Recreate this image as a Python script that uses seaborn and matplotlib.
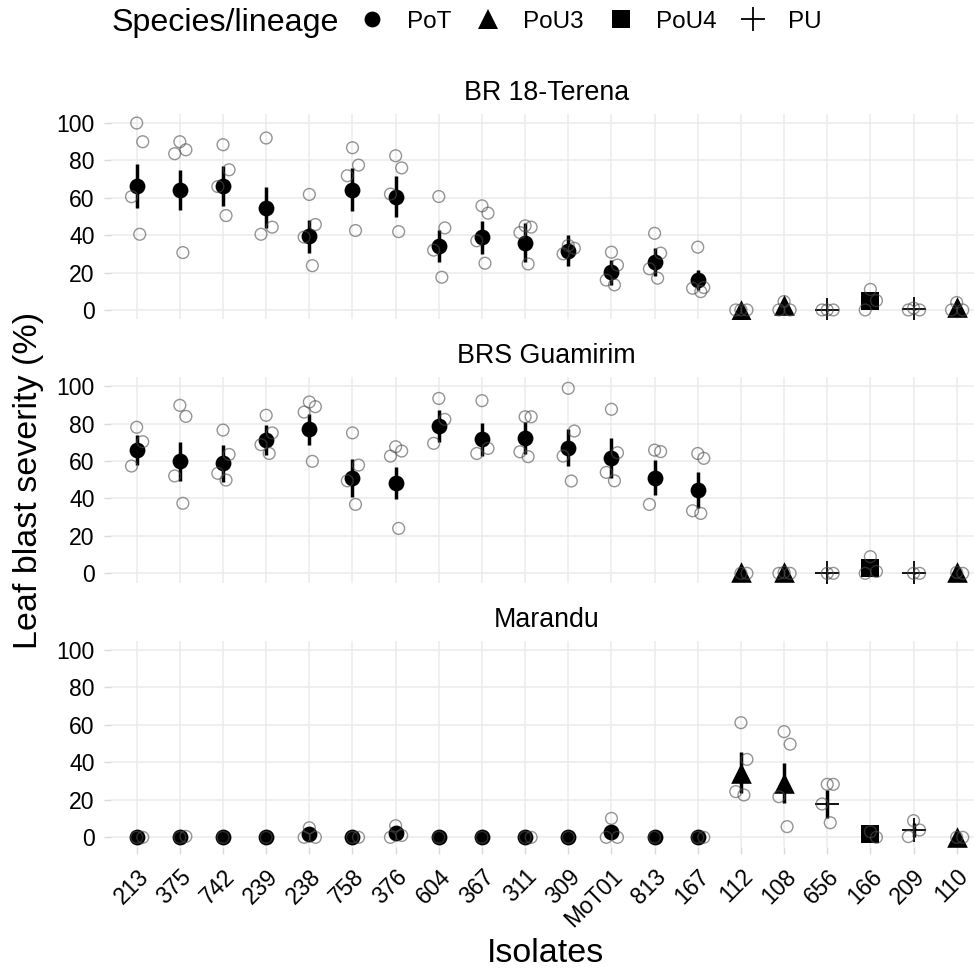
import numpy as np
import pandas as pd
import matplotlib
matplotlib.use("Agg")
import matplotlib.pyplot as plt
from matplotlib.lines import Line2D
import seaborn as sns

# ---------------- data ----------------
isolates = ["213", "375", "742", "239", "238", "758", "376", "604", "367", "311",
            "309", "MoT01", "813", "167", "112", "108", "656", "166", "209", "110"]
species = ["PoT"] * 14 + ["PoU3", "PoU3", "PU", "PoU4", "PU", "PoU3"]
cultivars = ["BR 18-Terena", "BRS Guamirim", "Marandu"]

terena_mean = [66.4, 64.3, 66.4, 54.8, 39.3, 64.3, 60.7, 34.3, 38.9, 36.0,
               31.8, 20.2, 25.5, 16.1, 0.0, 2.5, 0.0, 5.0, 0.5, 1.5]
terena_se = [11.7, 10.7, 10.7, 10.8, 9.0, 11.6, 11.2, 8.7, 8.7, 10.4,
             8.2, 6.7, 7.5, 5.5, 0.0, 1.2, 0.3, 2.5, 0.5, 1.0]
terena_reps = [[100, 90, 60.6, 40.5], [90, 85.7, 83.6, 30.7], [88.4, 75, 66, 50.5],
               [92, 44.3, 40.5], [61.8, 45.7, 39, 23.7], [86.8, 77.5, 71.8, 42.5],
               [82.5, 76, 62, 41.9], [60.7, 43.9, 32, 17.5], [55.7, 51.8, 37, 25],
               [45, 44.3, 41.4, 24.6], [34.5, 33, 30], [30.9, 24, 16, 13.4],
               [41, 30.4, 22, 17], [33.6, 12, 11.6, 9.8], [0, 0, 0], [4.5, 0, 0],
               [0, 0, 0], [11, 5, 0], [1, 0, 0], [4, 0, 0]]

guam_mean = [65.8, 59.8, 58.7, 71.2, 76.9, 51.0, 48.4, 78.6, 71.5, 72.1,
             67.1, 61.7, 51.0, 44.5, 0.5, 0.7, 0.0, 2.7, 0.0, 0.5]
guam_se = [8.2, 10.3, 10.0, 8.2, 8.2, 10.3, 8.6, 8.5, 8.6, 8.6,
           9.8, 10.8, 9.4, 9.6, 0.0, 0.5, 0.3, 1.8, 0.3, 0.3]
guam_reps = [[78, 70.3, 57.3], [89.7, 83.8, 52, 37.4], [76.5, 63.5, 53.4, 49.8],
             [84.4, 75, 68.7, 64], [91.5, 89, 86.1, 59.8], [75, 57.8, 49.4, 36.8],
             [67.6, 65.3, 62.6, 24], [93.4, 82.2, 69.4], [92.2, 66.7, 64],
             [83.6, 83.6, 64.9, 62.3], [98.8, 76, 62.6, 49.3], [87.6, 64.4, 53.9, 49.4],
             [65.8, 65, 36.8], [64, 61.4, 33.4, 32], [0, 0], [0.5, 0, 0],
             [0, 0], [8.9, 1, 0], [0, 0], [0.5, 0]]

mar_mean = [0.0, 0.3, 0.0, 0.0, 1.6, 0.0, 2.2, 0.0, 0.0, 0.0,
            0.0, 3.0, 0.0, 0.0, 34.5, 28.8, 17.8, 1.8, 3.9, 0.3]
mar_se = [0.0, 0.3, 0.0, 0.0, 1.6, 0.0, 1.8, 0.0, 0.0, 0.0,
          0.0, 2.5, 0.0, 0.0, 10.8, 10.7, 7.6, 1.0, 3.5, 0.0]
mar_reps = [[0, 0], [0, 0.5], [0], [0], [5.1, 0, 0], [0, 0], [6.2, 1, 0], [0], [0],
            [0, 0], [0], [10.1, 0, 0], [0], [0, 0], [61.2, 41.6, 24.4, 22.6],
            [56.4, 49.7, 21.7, 5.7], [28.3, 28.3, 17.8, 7.8], [3, 0], [8.9, 3.9, 0.4], [0, 0]]

y_ticks = [0, 20, 40, 60, 80, 100]
species_levels = ["PoT", "PoU3", "PoU4", "PU"]

# ---------------- build tables ----------------
means_all = {"BR 18-Terena": (terena_mean, terena_se, terena_reps),
             "BRS Guamirim": (guam_mean, guam_se, guam_reps),
             "Marandu": (mar_mean, mar_se, mar_reps)}

jit = [0.0, 0.14, -0.12, 0.07, -0.05]
rows_m, rows_r = [], []
for cv in cultivars:
    m, se, reps = means_all[cv]
    for i, iso in enumerate(isolates):
        rows_m.append(dict(cultivar=cv, isolate=iso, pos=i, mean=m[i], se=se[i],
                           species=species[i]))
        for j, v in enumerate(reps[i]):
            rows_r.append(dict(cultivar=cv, isolate=iso, pos=i + jit[j % len(jit)],
                               sev=v))
dm = pd.DataFrame(rows_m)
dr = pd.DataFrame(rows_r)

# ---------------- style ----------------
sns.set_theme(style="whitegrid")
plt.rcParams["font.family"] = ["Liberation Sans", "DejaVu Sans"]
plt.rcParams["text.color"] = "black"
plt.rcParams["axes.labelcolor"] = "black"
plt.rcParams["xtick.color"] = "black"
plt.rcParams["ytick.color"] = "black"
plt.rcParams["grid.color"] = "#ebebeb"
plt.rcParams["grid.linewidth"] = 1.1

markers = {"PoT": "o", "PoU3": "^", "PoU4": "s", "PU": "+"}
sizes = {"PoT": 130, "PoU3": 220, "PoU4": 160, "PU": 280}

W, H = 974.0, 971.0
fig = plt.figure(figsize=(W / 100, H / 100), dpi=100)


def rect(left, top, right, bottom):
    return [left / W, 1 - bottom / H, (right - left) / W, (bottom - top) / H]


panel_y = [(113.7, 319.3), (376.7, 582.7), (640.6, 846.7)]
left_px, right_px = 110.8, 982.6

for k, cv in enumerate(cultivars):
    top, bot = panel_y[k]
    ax = fig.add_axes(rect(left_px, top, right_px, bot))
    ax.set_facecolor("white")
    for s in ax.spines.values():
        s.set_visible(False)
    sub = dm[dm.cultivar == cv]
    ax.vlines(sub["pos"], sub["mean"] - sub["se"], sub["mean"] + sub["se"],
              color="black", lw=2.5, zorder=3)
    for sp in species_levels:
        ss = sub[sub.species == sp]
        if sp == "PU":
            sns.scatterplot(data=ss, x="pos", y="mean", marker="+", s=sizes[sp],
                            color="black", linewidth=1.3, ax=ax, legend=False, zorder=4)
        else:
            sns.scatterplot(data=ss, x="pos", y="mean", marker=markers[sp], s=sizes[sp],
                            color="black", linewidth=0, ax=ax, legend=False, zorder=4)
    rr = dr[dr.cultivar == cv]
    sns.scatterplot(data=rr, x="pos", y="sev", s=72, facecolors="none",
                    edgecolor="#4d4d4d", linewidth=1.0, alpha=0.6, ax=ax,
                    legend=False, zorder=5)
    ax.set_xlim(-0.6, len(isolates) - 0.4)
    ax.set_ylim(-5, 105)
    ax.set_xticks(range(len(isolates)))
    ax.set_yticks(y_ticks)
    ax.set_yticklabels([str(t) for t in y_ticks], fontsize=16.6, color="black")
    ax.grid(True, which="major", color="#ebebeb", lw=1.1)
    ax.set_axisbelow(True)
    ax.tick_params(axis="y", length=5, width=1, color="#d9d9d9", pad=6.5, left=True)
    ax.set_xlabel("")
    ax.set_ylabel("")
    if k == 2:
        ax.set_xticklabels(isolates, rotation=45, ha="right", va="top",
                           rotation_mode="anchor", fontsize=16.6, color="black")
        ax.tick_params(axis="x", length=5, width=1, color="#d9d9d9", pad=8, bottom=True)
    else:
        ax.set_xticklabels([])
        ax.tick_params(axis="x", length=0)
    cx = (left_px + right_px) / 2
    fig.text(cx / W, 1 - (top - 20.5) / H, cv, ha="center", va="center",
             fontsize=19.3, color="black")

# axis titles
fig.text(546 / W, 1 - 953 / H, "Isolates", ha="center", va="center", fontsize=24.5)
fig.text(29 / W, 1 - 480 / H, "Leaf blast severity (%)", ha="center", va="center",
         rotation=90, fontsize=24.5)

# legend
fig.text(111.7 / W, 1 - 23 / H, "Species/lineage", ha="left", va="center", fontsize=23.2)
handles = []
for sp in species_levels:
    if sp == "PU":
        h = Line2D([], [], marker="+", ls="none", color="black", ms=16.7, mew=1.3)
    else:
        h = Line2D([], [], marker=markers[sp], ls="none", color="black",
                   ms=np.sqrt(sizes[sp]), mew=0)
    handles.append(h)
fig.legend(handles, species_levels, loc="center left",
           bbox_to_anchor=(360 / W, 1 - 22 / H), ncol=4, frameon=False,
           fontsize=17.5, handlelength=1.0, handletextpad=0.95, columnspacing=1.0,
           borderpad=0, borderaxespad=0)

fig.savefig("out.png", dpi=100)
